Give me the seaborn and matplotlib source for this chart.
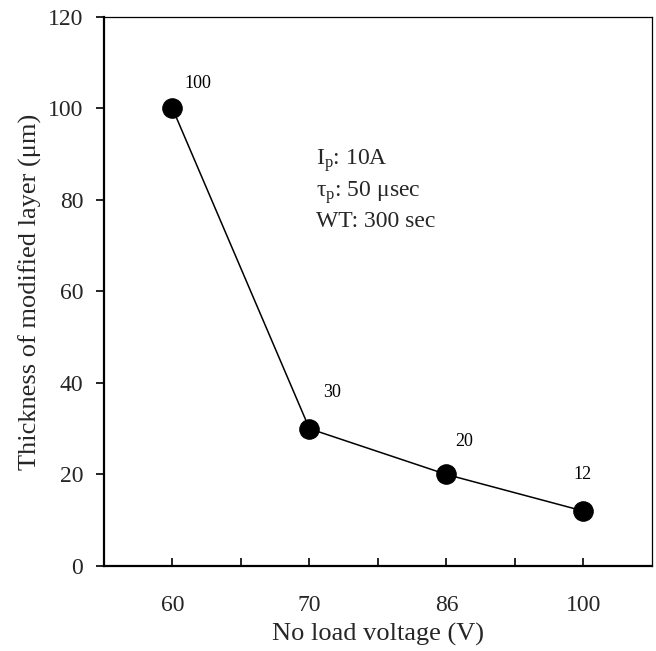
import matplotlib
matplotlib.use("Agg")
import matplotlib.pyplot as plt
import seaborn as sns
import pandas as pd
from matplotlib.ticker import FixedLocator

# Data
voltage = ["60", "70", "86", "100"]
thickness = [100, 30, 20, 12]
label_offsets = [(18, 18), (16, 26), (13, 24), (-1, 26)]  # points

df = pd.DataFrame({"voltage": voltage, "thickness": thickness})

sns.set_theme(style="white")
plt.rcParams["font.family"] = ["Liberation Serif", "DejaVu Serif"]
plt.rcParams["mathtext.fontset"] = "custom"
plt.rcParams["mathtext.rm"] = "Liberation Serif"
plt.rcParams["mathtext.it"] = "Liberation Serif:italic"

fig = plt.figure(figsize=(6.56, 6.51), dpi=100)
ax = fig.add_axes([0.1585, 0.1306, 0.9939 - 0.1585, 0.974 - 0.1306])

sns.pointplot(data=df, x="voltage", y="thickness", order=voltage,
              color="black", markers="o", markersize=14, linewidth=1.1,
              ax=ax)

for i, (v, t) in enumerate(zip(voltage, thickness)):
    ax.annotate(str(t), xy=(i, t), xytext=label_offsets[i],
                textcoords="offset points", ha="center", va="center",
                fontsize=13, color="black")

ax.text(0.387, 0.762, "I$_\\mathrm{p}$: 10A\n\u03c4$_\\mathrm{p}$: 50 \u03bcsec\nWT: 300 sec",
        transform=ax.transAxes, fontsize=17, ha="left", va="top",
        linespacing=1.3)

ax.set_xlim(-0.5, 3.5)
ax.set_ylim(0, 120)
ax.set_yticks(range(0, 121, 20))
ax.xaxis.set_minor_locator(FixedLocator([0.5, 1.5, 2.5]))

ax.set_xlabel("No load voltage (V)", fontsize=19, labelpad=5)
ax.set_ylabel("Thickness of modified layer (\u03bcm)", fontsize=19, labelpad=4)

ax.tick_params(axis="x", which="both", direction="in", length=6, width=1.2,
               pad=21, labelsize=17, color="black", bottom=True)
ax.tick_params(axis="y", direction="out", length=6, width=1.2, pad=9,
               labelsize=17, color="black", left=True)

for side in ["left", "bottom"]:
    ax.spines[side].set_linewidth(1.6)
    ax.spines[side].set_color("black")
for side in ["top", "right"]:
    ax.spines[side].set_linewidth(0.9)
    ax.spines[side].set_color("black")
    ax.spines[side].set_visible(True)

fig.savefig("out.png", dpi=100)
